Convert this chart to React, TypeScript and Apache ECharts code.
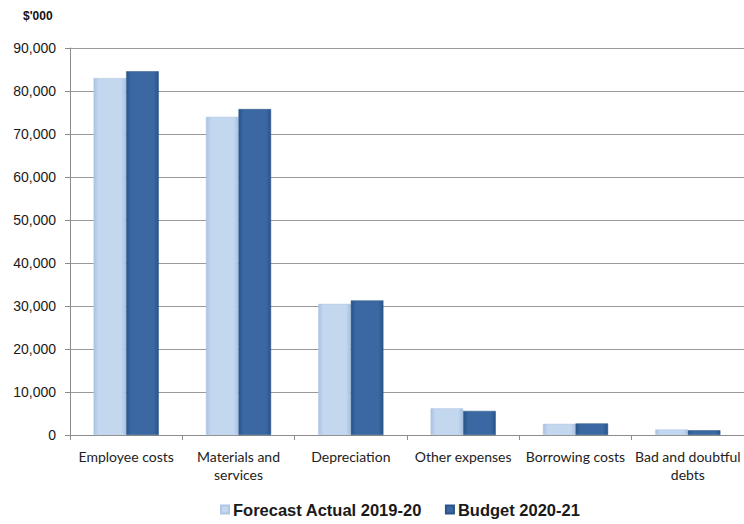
import React, { useEffect, useRef } from "react";
import * as echarts from "echarts";

const categories = [
  "Employee costs",
  "Materials and\nservices",
  "Depreciation",
  "Other expenses",
  "Borrowing costs",
  "Bad and doubtful\ndebts",
];
const forecastActual = [83000, 74000, 30500, 6200, 2600, 1300];
const budget = [84600, 75800, 31300, 5600, 2700, 1100];
const seriesNames = ["Forecast Actual 2019-20", "Budget 2020-21"];
const yTicks = { min: 0, max: 90000, interval: 10000 };

const lightFill = new echarts.graphic.LinearGradient(0, 0, 1, 0, [
  { offset: 0, color: "#a9c2e3" },
  { offset: 0.15, color: "#c3d7ef" },
  { offset: 0.85, color: "#c3d7ef" },
  { offset: 1, color: "#a9c2e3" },
]);
const darkFill = new echarts.graphic.LinearGradient(0, 0, 1, 0, [
  { offset: 0, color: "#2a5489" },
  { offset: 0.15, color: "#3b68a3" },
  { offset: 0.85, color: "#3b68a3" },
  { offset: 1, color: "#2a5489" },
]);

export default function App() {
  const ref = useRef<HTMLDivElement>(null);
  useEffect(() => {
    if (!ref.current) return;
    const chart = echarts.init(ref.current, null, { renderer: "svg" });
    chart.setOption({
      animation: false,
      backgroundColor: "#ffffff",
      graphic: [
        {
          type: "text",
          left: 23,
          top: 10,
          style: {
            text: "$'000",
            font: "bold 12px 'Liberation Sans', Arial, sans-serif",
            fill: "#111",
          },
        },
      ],
      grid: { left: 70, right: -6, top: 48, bottom: 89, containLabel: false },
      legend: {
        bottom: 1,
        left: 215,
        icon: "rect",
        itemWidth: 8,
        itemHeight: 8,
        itemGap: 23,
        textStyle: {
          fontFamily: "'Liberation Sans', Arial, sans-serif",
          fontWeight: "bold",
          fontSize: 16.5,
          color: "#1a1a1a",
          padding: [0, 0, 0, -1],
        },
        data: seriesNames,
      },
      xAxis: {
        type: "category",
        data: categories,
        axisLine: { lineStyle: { color: "#8c8c8c", width: 1 } },
        axisTick: { show: true, length: 5, lineStyle: { color: "#8c8c8c" } },
        axisLabel: {
          interval: 0,
          margin: 12,
          fontFamily: "Lato, 'Open Sans', sans-serif",
          fontSize: 14,
          lineHeight: 18,
          color: "#222",
        },
      },
      yAxis: {
        type: "value",
        min: yTicks.min,
        max: yTicks.max,
        interval: yTicks.interval,
        axisLine: { show: true, lineStyle: { color: "#8c8c8c" } },
        axisTick: { show: true, length: 5, lineStyle: { color: "#8c8c8c" } },
        splitLine: { lineStyle: { color: "#9a9a9a", width: 1 } },
        axisLabel: {
          margin: 14,
          fontFamily: "'Liberation Sans', Arial, sans-serif",
          fontSize: 14,
          color: "#1a1a1a",
          formatter: (v: number) => v.toLocaleString("en-US"),
        },
      },
      series: [
        {
          name: seriesNames[0],
          type: "bar",
          data: forecastActual,
          barGap: "0%",
          barCategoryGap: "42%",
          itemStyle: { color: lightFill, borderColor: "#b0c6e3", borderWidth: 0.5 },
        },
        {
          name: seriesNames[1],
          type: "bar",
          data: budget,
          itemStyle: { color: darkFill, borderColor: "#2a5489", borderWidth: 0.5 },
        },
      ],
    });
    return () => chart.dispose();
  }, []);
  return (
    <div
      ref={ref}
      style={{ position: "fixed", left: 0, top: 0, width: 744, height: 524 }}
    />
  );
}
